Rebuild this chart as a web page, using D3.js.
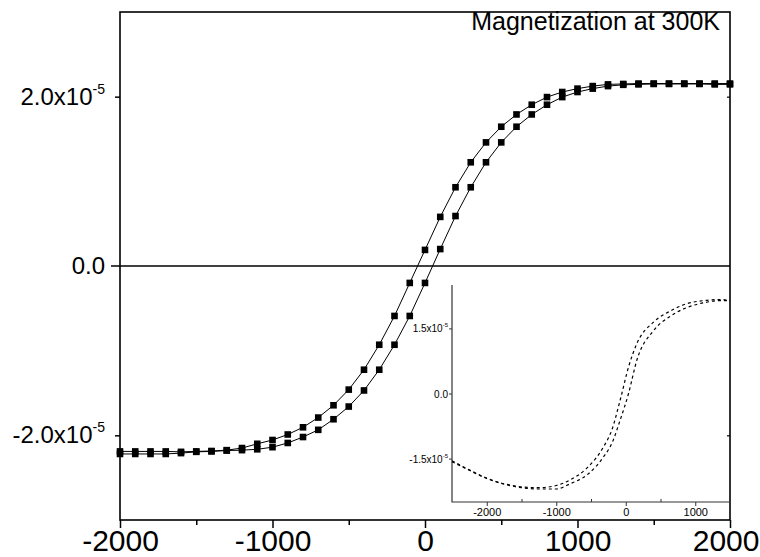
<!DOCTYPE html>
<html>
<head>
<meta charset="utf-8">
<script src="https://cdn.jsdelivr.net/npm/d3@7/dist/d3.min.js"></script>
<style>
  body { margin: 0; background: #fff; }
  svg { display: block; font-family: "Liberation Sans", Arial, sans-serif; }
</style>
</head>
<body>
<svg id="svg" width="760" height="557"></svg>
<script>
// field (Oe) at each marker, both branches
const fields = [-2000, -1900, -1800, -1700, -1600, -1500, -1400, -1300, -1200, -1100,
                -1000, -900, -800, -700, -600, -500, -400, -300, -200, -100,
                0, 100, 200, 300, 400, 500, 600, 700, 800, 900,
                1000, 1100, 1200, 1300, 1400, 1500, 1600, 1700, 1800, 1900, 2000];

// magnetization, units of 1e-5
const descending = [-2.19, -2.19, -2.19, -2.19, -2.195, -2.19, -2.185, -2.175, -2.15, -2.10,
                    -2.055, -1.99, -1.905, -1.79, -1.645, -1.46, -1.225, -0.93, -0.59, -0.20,
                    0.19, 0.58, 0.93, 1.225, 1.46, 1.645, 1.79, 1.905, 1.995, 2.055,
                    2.095, 2.125, 2.145, 2.15, 2.155, 2.155, 2.155, 2.155, 2.155, 2.155, 2.155];
const ascending = [-2.22, -2.22, -2.22, -2.22, -2.21, -2.195, -2.19, -2.18, -2.175, -2.165,
                   -2.14, -2.09, -2.02, -1.935, -1.81, -1.66, -1.47, -1.225, -0.93, -0.59,
                   -0.20, 0.20, 0.59, 0.93, 1.225, 1.46, 1.645, 1.79, 1.905, 1.995,
                   2.055, 2.095, 2.125, 2.14, 2.145, 2.15, 2.15, 2.15, 2.15, 2.145, 2.145];

// inset curves (raw loop)
const insetFields = [-2500, -2250, -2000, -1750, -1500, -1250, -1000, -800, -560, -320,
                     -200, -80, 40, 160, 400, 640, 880, 1120, 1360, 1500];
const insetUpper = [-1.55, -1.76, -1.95, -2.08, -2.15, -2.17, -2.12, -1.99, -1.72, -1.23,
                    -0.84, -0.15, 0.61, 1.15, 1.645, 1.90, 2.07, 2.14, 2.165, 2.14];
const insetLower = [-1.57, -1.77, -1.96, -2.09, -2.17, -2.20, -2.20, -2.08, -1.88, -1.46,
                    -1.15, -0.61, 0.0, 0.77, 1.45, 1.78, 1.98, 2.09, 2.14, 2.14];

const xMajor = [-2000, -1000, 0, 1000, 2000];
const xMinor = [-1500, -500, 500, 1500];
const yTicks = [-2, 0, 2];
const yLabels = [["-2.0x10", "-5"], ["0.0", ""], ["2.0x10", "-5"]];
const insetXMajor = [-2000, -1000, 0, 1000];
const insetXMinor = [-1500, -500, 500];
const insetYTicks = [-1.5, 0, 1.5];
const insetYLabels = [["-1.5x10", "-5"], ["0.0", ""], ["1.5x10", "-5"]];
const title = "Magnetization at 300K";

let layout = {"width": 760, "left": 120, "right": 730, "top": 12, "bottom": 520};
let inset = {"left": 452, "right": 730, "top": 285, "bottom": 502};

let svg = d3.select("#svg");

let xScale = d3.scaleLinear().domain([-2000, 2000]).range([layout.left, layout.right]);
let yScale = d3.scaleLinear().domain([-3, 3]).range([layout.bottom, layout.top]);

// frame
svg.append("rect")
   .attr("x", layout.left).attr("y", layout.top)
   .attr("width", layout.right - layout.left)
   .attr("height", layout.bottom - layout.top)
   .attr("fill", "none").attr("stroke", "black").attr("stroke-width", 1.6);

// zero line
svg.append("line")
   .attr("x1", layout.left - 9).attr("x2", layout.right)
   .attr("y1", yScale(0)).attr("y2", yScale(0))
   .attr("stroke", "black").attr("stroke-width", 1.6);

// x axis
let xAxis = svg.append("g")
   .attr("transform", `translate(0, ${layout.bottom})`)
   .call(d3.axisBottom(xScale).tickValues(xMajor).tickSize(8).tickPadding(2).tickFormat(d => String(d)));
svg.append("g")
   .attr("transform", `translate(0, ${layout.bottom})`)
   .call(d3.axisBottom(xScale).tickValues(xMinor).tickSize(5).tickFormat(""));
svg.selectAll(".domain").remove();
xAxis.selectAll("text")
   .attr("font-size", 30)
   .attr("font-family", "Liberation Sans, Arial, sans-serif")
   .attr("fill", "black");
// last label is pushed inside the page edge, as in the original
xAxis.selectAll("text").filter(d => d === 2000)
   .attr("text-anchor", "end")
   .attr("x", layout.width - 1 - layout.right);
svg.selectAll(".tick line").attr("stroke", "black").attr("stroke-width", 1.5);

// y axis ticks
let yAxis = svg.append("g")
   .attr("transform", `translate(${layout.left}, 0)`)
   .call(d3.axisLeft(yScale).tickValues(yTicks.filter(d => d !== 0)).tickSize(5).tickFormat(""));
yAxis.select(".domain").remove();
yAxis.selectAll(".tick line").attr("stroke", "black").attr("stroke-width", 1.5);

let yRight = svg.append("g")
   .attr("transform", `translate(${layout.right}, 0)`)
   .call(d3.axisRight(yScale).tickValues(yTicks.filter(d => d !== 0)).tickSize(-3).tickFormat(""));
yRight.select(".domain").remove();
yRight.selectAll(".tick line").attr("stroke", "black").attr("stroke-width", 1.2);

let yText = svg.append("g").selectAll("text")
   .data(yTicks)
   .join("text")
   .attr("x", 105)
   .attr("y", d => yScale(d) + 8)
   .attr("text-anchor", "end")
   .attr("font-size", 24)
   .attr("fill", "black");
yText.append("tspan").text((d, i) => yLabels[i][0]);
yText.append("tspan").attr("font-size", 14).attr("dy", -11).text((d, i) => yLabels[i][1]);

// title
svg.append("text")
   .attr("x", 720).attr("y", 30)
   .attr("text-anchor", "end")
   .attr("font-size", 25)
   .attr("fill", "black")
   .text(title);

// hysteresis branches
let lineFunction = d3.line()
   .x(d => xScale(d[0]))
   .y(d => yScale(d[1]));

let branches = [descending, ascending].map(s => fields.map((f, i) => [f, s[i]]));

svg.append("g").selectAll("path")
   .data(branches)
   .join("path")
   .attr("fill", "none")
   .attr("stroke", "black")
   .attr("stroke-width", 1)
   .attr("d", d => lineFunction(d));

svg.append("g").selectAll("rect")
   .data(branches.flat())
   .join("rect")
   .attr("x", d => xScale(d[0]) - 3.3)
   .attr("y", d => yScale(d[1]) - 3.3)
   .attr("width", 6.6)
   .attr("height", 6.6)
   .attr("fill", "black");

// inset
let xInset = d3.scaleLinear().domain([-2500, 1500]).range([inset.left, inset.right]);
let yInset = d3.scaleLinear().domain([-2.5, 2.5]).range([inset.bottom, inset.top]);

let insetGroup = svg.append("g");

insetGroup.append("path")
   .attr("fill", "none").attr("stroke", "#333").attr("stroke-width", 1.2)
   .attr("d", `M${inset.left},${inset.top}V${inset.bottom}H${inset.right}`);

let ixAxis = insetGroup.append("g")
   .attr("transform", `translate(0, ${inset.bottom})`)
   .call(d3.axisBottom(xInset).tickValues(insetXMajor).tickSize(4).tickPadding(2).tickFormat(d => String(d)));
ixAxis.select(".domain").remove();
ixAxis.selectAll("text").attr("font-size", 11).attr("font-family", "Liberation Sans, Arial, sans-serif").attr("fill", "black");
let ixMinor = insetGroup.append("g")
   .attr("transform", `translate(0, ${inset.bottom})`)
   .call(d3.axisBottom(xInset).tickValues(insetXMinor).tickSize(-3).tickFormat(""));
ixMinor.select(".domain").remove();
insetGroup.selectAll(".tick line").attr("stroke", "#333");

let iyAxis = insetGroup.append("g")
   .attr("transform", `translate(${inset.left}, 0)`)
   .call(d3.axisLeft(yInset).tickValues(insetYTicks).tickSize(3).tickFormat(""));
iyAxis.select(".domain").remove();
iyAxis.selectAll(".tick line").attr("stroke", "#333");

let iyText = insetGroup.append("g").selectAll("text")
   .data(insetYTicks)
   .join("text")
   .attr("x", inset.left - 4)
   .attr("y", d => yInset(d) + 4)
   .attr("text-anchor", "end")
   .attr("font-size", 10)
   .attr("fill", "black");
iyText.append("tspan").text((d, i) => insetYLabels[i][0]);
iyText.append("tspan").attr("font-size", 6).attr("dy", -5).text((d, i) => insetYLabels[i][1]);

let insetLine = d3.line()
   .curve(d3.curveMonotoneX)
   .x(d => xInset(d[0]))
   .y(d => yInset(d[1]));

insetGroup.append("g").selectAll("path")
   .data([insetUpper, insetLower].map(s => insetFields.map((f, i) => [f, s[i]])))
   .join("path")
   .attr("fill", "none")
   .attr("stroke", "black")
   .attr("stroke-width", 1.2)
   .attr("stroke-dasharray", "3,3")
   .attr("d", d => insetLine(d));
</script>
</body>
</html>
